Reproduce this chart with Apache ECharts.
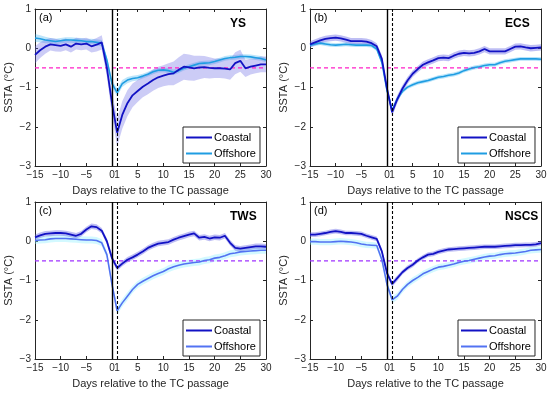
<!DOCTYPE html>
<html>
<head>
<meta charset="utf-8">
<script src="https://cdn.jsdelivr.net/npm/echarts@6/dist/echarts.min.js"></script>
<style>html,body{margin:0;padding:0;background:#fff}#c{width:550px;height:394px}</style>
</head>
<body>
<div id="c"></div>
<script>
const days = [-15,-14,-13,-12,-11,-10,-9,-8,-7,-6,-5,-4,-3,-2,-1,0,1,2,3,4,5,6,7,8,9,10,11,12,13,14,15,16,17,18,19,20,21,22,23,24,25,26,27,28,29,30];
const xTicks = [-15,-10,-5,0,1,5,10,15,20,25,30];
const refLevel = -0.5;
const panelLabels = ['(a)','(b)','(c)','(d)'];
const regionNames = ['YS','ECS','TWS','NSCS'];
const legendNames = ['Coastal','Offshore'];

// (a) YS
const ysCoastal = [-0.17,-0.05,0.04,0.10,0.08,0.06,0.10,0.04,0.12,0.10,0.12,0.05,0.09,0.15,-0.50,
  -1.40,-2.15,-1.70,-1.40,-1.20,-1.09,-0.98,-0.90,-0.81,-0.74,-0.70,-0.66,-0.64,-0.55,-0.47,-0.49,-0.51,-0.49,-0.48,-0.50,-0.51,-0.51,-0.52,-0.54,-0.38,-0.32,-0.51,-0.47,-0.44,-0.41,-0.41];
const ysCoastalSpread = [0.22,0.20,0.18,0.16,0.16,0.15,0.15,0.15,0.15,0.15,0.15,0.16,0.17,0.18,0.22,
  0.30,0.35,0.35,0.33,0.30,0.28,0.27,0.27,0.27,0.27,0.27,0.28,0.30,0.32,0.33,0.33,0.32,0.30,0.28,0.27,0.25,0.25,0.25,0.26,0.28,0.28,0.22,0.20,0.20,0.20,0.20];
const ysOffshore = [0.26,0.24,0.21,0.19,0.17,0.19,0.21,0.21,0.20,0.19,0.17,0.17,0.15,0.13,-0.30,
  -0.90,-1.13,-0.90,-0.81,-0.77,-0.75,-0.71,-0.66,-0.60,-0.56,-0.55,-0.57,-0.61,-0.57,-0.51,-0.47,-0.43,-0.39,-0.38,-0.37,-0.34,-0.30,-0.26,-0.24,-0.23,-0.21,-0.21,-0.22,-0.24,-0.26,-0.30];
const ysOffshoreSpread = [0.10,0.09,0.08,0.07,0.07,0.07,0.07,0.07,0.07,0.07,0.07,0.07,0.08,0.08,0.09,
  0.10,0.10,0.09,0.08,0.07,0.07,0.06,0.06,0.06,0.06,0.06,0.07,0.07,0.06,0.06,0.06,0.06,0.06,0.06,0.06,0.06,0.06,0.06,0.06,0.06,0.06,0.06,0.06,0.06,0.06,0.06];

// (b) ECS
const ecsCoastal = [0.10,0.15,0.20,0.24,0.26,0.27,0.25,0.22,0.18,0.18,0.18,0.17,0.13,0.05,-0.27,
  -1.03,-1.63,-1.30,-1.03,-0.82,-0.65,-0.53,-0.42,-0.36,-0.31,-0.25,-0.24,-0.25,-0.19,-0.14,-0.12,-0.13,-0.12,-0.08,-0.02,-0.08,-0.08,-0.08,-0.08,-0.02,0.04,0.05,0.02,0.00,0.01,0.02];
const ecsCoastalSpread = [0.08,0.08,0.08,0.08,0.08,0.08,0.08,0.08,0.08,0.08,0.08,0.08,0.08,0.08,0.09,
  0.10,0.10,0.10,0.09,0.09,0.08,0.08,0.08,0.08,0.08,0.08,0.08,0.08,0.08,0.08,0.08,0.08,0.08,0.08,0.08,0.08,0.08,0.08,0.08,0.08,0.08,0.08,0.08,0.08,0.08,0.08];
const ecsOffshore = [0.08,0.11,0.13,0.11,0.09,0.08,0.09,0.10,0.09,0.08,0.08,0.08,0.07,-0.02,-0.36,
  -1.08,-1.58,-1.29,-1.10,-0.99,-0.93,-0.88,-0.85,-0.82,-0.78,-0.74,-0.72,-0.69,-0.67,-0.63,-0.57,-0.53,-0.49,-0.47,-0.44,-0.42,-0.42,-0.37,-0.33,-0.31,-0.29,-0.27,-0.27,-0.27,-0.27,-0.28];
const ecsOffshoreSpread = [0.05,0.05,0.05,0.05,0.05,0.05,0.05,0.05,0.05,0.05,0.05,0.05,0.05,0.05,0.05,
  0.06,0.06,0.06,0.05,0.05,0.05,0.05,0.05,0.05,0.05,0.05,0.05,0.05,0.05,0.05,0.05,0.05,0.05,0.05,0.05,0.05,0.05,0.05,0.05,0.05,0.05,0.05,0.05,0.05,0.05,0.05];

// (c) TWS
const twsCoastal = [0.10,0.15,0.19,0.20,0.21,0.21,0.20,0.17,0.14,0.19,0.30,0.38,0.36,0.27,0.00,
  -0.43,-0.68,-0.57,-0.47,-0.41,-0.34,-0.26,-0.17,-0.11,-0.06,-0.04,-0.02,0.04,0.09,0.13,0.17,0.20,0.09,0.11,0.07,0.10,0.09,0.14,-0.04,-0.17,-0.19,-0.17,-0.15,-0.13,-0.13,-0.14];
const twsCoastalSpread = [0.07,0.07,0.07,0.07,0.07,0.07,0.07,0.07,0.07,0.07,0.07,0.07,0.07,0.07,0.07,
  0.07,0.07,0.07,0.07,0.07,0.07,0.07,0.07,0.07,0.07,0.07,0.07,0.07,0.07,0.07,0.07,0.07,0.07,0.07,0.07,0.07,0.07,0.07,0.07,0.07,0.07,0.07,0.07,0.07,0.07,0.07];
const twsOffshore = [0.02,0.03,0.04,0.06,0.07,0.07,0.07,0.06,0.05,0.04,0.03,0.03,0.02,-0.04,-0.34,
  -1.10,-1.77,-1.57,-1.40,-1.23,-1.10,-1.02,-0.95,-0.88,-0.82,-0.77,-0.70,-0.65,-0.61,-0.58,-0.56,-0.54,-0.53,-0.49,-0.47,-0.43,-0.41,-0.37,-0.32,-0.30,-0.27,-0.26,-0.25,-0.24,-0.23,-0.23];
const twsOffshoreSpread = [0.09,0.09,0.09,0.09,0.09,0.09,0.09,0.09,0.09,0.09,0.09,0.09,0.09,0.09,0.09,
  0.10,0.10,0.10,0.10,0.09,0.09,0.09,0.09,0.09,0.09,0.09,0.09,0.09,0.09,0.09,0.09,0.09,0.09,0.09,0.09,0.09,0.09,0.09,0.09,0.09,0.09,0.09,0.09,0.09,0.09,0.09];

// (d) NSCS
const nscsCoastal = [0.17,0.17,0.19,0.21,0.24,0.26,0.24,0.21,0.21,0.20,0.19,0.14,0.10,0.06,-0.26,
  -0.81,-1.09,-0.94,-0.79,-0.68,-0.60,-0.49,-0.41,-0.34,-0.32,-0.27,-0.24,-0.21,-0.20,-0.19,-0.18,-0.17,-0.16,-0.15,-0.14,-0.14,-0.14,-0.13,-0.12,-0.11,-0.10,-0.10,-0.09,-0.09,-0.08,-0.05];
const nscsCoastalSpread = [0.06,0.06,0.06,0.06,0.06,0.06,0.06,0.06,0.06,0.06,0.06,0.06,0.06,0.06,0.06,
  0.07,0.07,0.07,0.06,0.06,0.06,0.06,0.06,0.06,0.06,0.06,0.06,0.06,0.06,0.06,0.06,0.06,0.06,0.06,0.06,0.06,0.06,0.06,0.06,0.06,0.06,0.06,0.06,0.06,0.06,0.06];
const nscsOffshore = [-0.01,-0.01,-0.02,-0.02,-0.02,-0.01,0.00,-0.01,-0.02,-0.04,-0.07,-0.09,-0.10,-0.11,-0.47,
  -1.10,-1.49,-1.40,-1.23,-1.10,-1.00,-0.92,-0.83,-0.77,-0.71,-0.66,-0.64,-0.61,-0.58,-0.54,-0.51,-0.49,-0.46,-0.43,-0.40,-0.38,-0.37,-0.34,-0.32,-0.31,-0.30,-0.28,-0.26,-0.23,-0.22,-0.21];
const nscsOffshoreSpread = [0.08,0.08,0.08,0.08,0.08,0.08,0.08,0.08,0.08,0.08,0.08,0.08,0.08,0.08,0.08,
  0.09,0.09,0.09,0.08,0.08,0.08,0.08,0.08,0.08,0.08,0.08,0.08,0.08,0.08,0.08,0.08,0.08,0.08,0.08,0.08,0.08,0.08,0.08,0.08,0.08,0.08,0.08,0.08,0.08,0.08,0.08];

const FONT = '"Liberation Sans", Arial, Helvetica, sans-serif';
const INK = '#262626';
const COASTAL = '#1212c4';

const panels = [
  {coastal: ysCoastal, cs: ysCoastalSpread, offshore: ysOffshore, os: ysOffshoreSpread,
   left: 35, top: 9, offColor: '#1f9de2', offBand: 'rgba(50,175,240,0.32)', cBand: 'rgba(100,100,228,0.33)', refColor: '#ff20c8'},
  {coastal: ecsCoastal, cs: ecsCoastalSpread, offshore: ecsOffshore, os: ecsOffshoreSpread,
   left: 310, top: 9, offColor: '#1f9de2', offBand: 'rgba(50,175,240,0.35)', cBand: 'rgba(100,100,228,0.42)', refColor: '#ff20c8'},
  {coastal: twsCoastal, cs: twsCoastalSpread, offshore: twsOffshore, os: twsOffshoreSpread,
   left: 35, top: 202, offColor: '#5272f2', offBand: 'rgba(140,240,255,0.38)', cBand: 'rgba(100,100,228,0.42)', refColor: '#a033ff'},
  {coastal: nscsCoastal, cs: nscsCoastalSpread, offshore: nscsOffshore, os: nscsOffshoreSpread,
   left: 310, top: 202, offColor: '#5272f2', offBand: 'rgba(140,240,255,0.38)', cBand: 'rgba(100,100,228,0.42)', refColor: '#a033ff'}
];
const W = 231, H = 157;
const minus = v => String(v).replace('-', '\u2212');

// band polygon drawn once per series from all its data points, via the axes' coord system
function bandRender(color) {
  return function (params, api) {
    if (params.dataIndexInside !== 0) return null;
    const n = params.dataInsideLength;
    const top = [], bot = [];
    for (let j = 0; j < n; j++) {
      const x = api.value(0, j);
      top.push(api.coord([x, api.value(2, j)]));
      bot.push(api.coord([x, api.value(1, j)]));
    }
    const pts = top.concat(bot.reverse());
    return {type: 'polygon', shape: {points: pts}, style: {fill: color}, silent: true};
  };
}

const grid = [], xAxis = [], yAxis = [], series = [], legend = [], graphic = [];
panels.forEach((p, i) => {
  grid.push({left: p.left, top: p.top, width: W, height: H, containLabel: false});
  const axLine = {show: true, onZero: false, lineStyle: {color: INK, width: 1}};
  xAxis.push({gridIndex: i, type: 'value', min: -15, max: 30, position: 'bottom',
    axisLine: axLine, splitLine: {show: false},
    axisTick: {show: true, inside: true, length: 3, customValues: xTicks, lineStyle: {color: INK}},
    axisLabel: {customValues: xTicks, formatter: minus, fontSize: 10, color: INK, fontFamily: FONT, margin: 4},
    name: 'Days relative to the TC passage', nameLocation: 'middle', nameGap: 19,
    nameTextStyle: {fontSize: 11, color: INK, fontFamily: FONT}});
  xAxis.push({gridIndex: i, type: 'value', min: -15, max: 30, position: 'top',
    axisLine: axLine, splitLine: {show: false},
    axisTick: {show: true, inside: true, length: 3, customValues: xTicks, lineStyle: {color: INK}},
    axisLabel: {show: false}});
  yAxis.push({gridIndex: i, type: 'value', min: -3, max: 1, interval: 1, position: 'left',
    axisLine: axLine, splitLine: {show: false},
    axisTick: {show: true, inside: true, length: 3, lineStyle: {color: INK}},
    axisLabel: {formatter: minus, fontSize: 10, color: INK, fontFamily: FONT, margin: 4},
    name: 'SSTA (°C)', nameLocation: 'middle', nameGap: 21, nameRotate: 90,
    nameTextStyle: {fontSize: 11, color: INK, fontFamily: FONT}});
  yAxis.push({gridIndex: i, type: 'value', min: -3, max: 1, interval: 1, position: 'right',
    axisLine: axLine, splitLine: {show: false},
    axisTick: {show: true, inside: true, length: 3, lineStyle: {color: INK}},
    axisLabel: {show: false}});

  const xi = i * 2, yi = i * 2;
  const band = (mean, spread, color) => {
    series.push({type: 'custom', name: 'band', xAxisIndex: xi, yAxisIndex: yi, clip: true,
      silent: true, z: 1, renderItem: bandRender(color),
      encode: {x: 0, y: [1, 2]},
      data: days.map((d, k) => [d, +(mean[k] - spread[k]).toFixed(3), +(mean[k] + spread[k]).toFixed(3)])});
  };
  band(p.offshore, p.os, p.offBand);
  band(p.coastal, p.cs, p.cBand);

  // horizontal reference level
  series.push({type: 'line', name: 'ref', xAxisIndex: xi, yAxisIndex: yi, silent: true,
    data: [[days[0], refLevel], [days[days.length - 1], refLevel]], symbol: 'none',
    lineStyle: {color: p.refColor, width: 1.1, type: [4, 3]}, itemStyle: {color: p.refColor}, z: 2});

  series.push({type: 'line', name: 'Offshore', xAxisIndex: xi, yAxisIndex: yi,
    data: days.map((d, k) => [d, p.offshore[k]]), symbol: 'none',
    lineStyle: {color: p.offColor, width: 1.6}, itemStyle: {color: p.offColor}, z: 3});
  series.push({type: 'line', name: 'Coastal', xAxisIndex: xi, yAxisIndex: yi,
    data: days.map((d, k) => [d, p.coastal[k]]), symbol: 'none',
    lineStyle: {color: COASTAL, width: 1.8}, itemStyle: {color: COASTAL}, z: 4,
    markLine: {silent: true, symbol: ['none', 'none'], label: {show: false}, animation: false,
      emphasis: {disabled: true},
      data: [
        {xAxis: 0, lineStyle: {color: '#000', width: 1.4, type: 'solid'}},
        {xAxis: 1, lineStyle: {color: '#000', width: 1.1, type: [3, 2]}}
      ]}});

  legend.push({left: p.left + 148, top: p.top + 118, orient: 'vertical',
    width: 80, height: 32,
    data: [
      {name: 'Coastal', icon: 'rect', itemStyle: {color: COASTAL}},
      {name: 'Offshore', icon: 'rect', itemStyle: {color: p.offColor}}
    ],
    itemWidth: 26, itemHeight: 2, itemGap: 5, padding: [5, 4, 4, 3],
    borderColor: INK, borderWidth: 1, backgroundColor: '#fff',
    selectedMode: false, inactiveColor: '#000',
    textStyle: {fontSize: 11, color: '#000', fontFamily: FONT, padding: [0, 0, 0, -3]}});

  graphic.push({type: 'text', left: p.left + 4, top: p.top + 3,
    style: {text: panelLabels[i], font: '11px ' + FONT, fill: '#000'}, z: 100});
  graphic.push({type: 'text', left: p.left + 195, top: p.top + 9,
    style: {text: regionNames[i], font: 'bold 12px ' + FONT, fill: '#000'}, z: 100});
});

const chart = echarts.init(document.getElementById('c'), null, {renderer: 'canvas'});
chart.setOption({animation: false, backgroundColor: '#fff', grid, xAxis, yAxis, series, legend, graphic});
</script>
</body>
</html>
